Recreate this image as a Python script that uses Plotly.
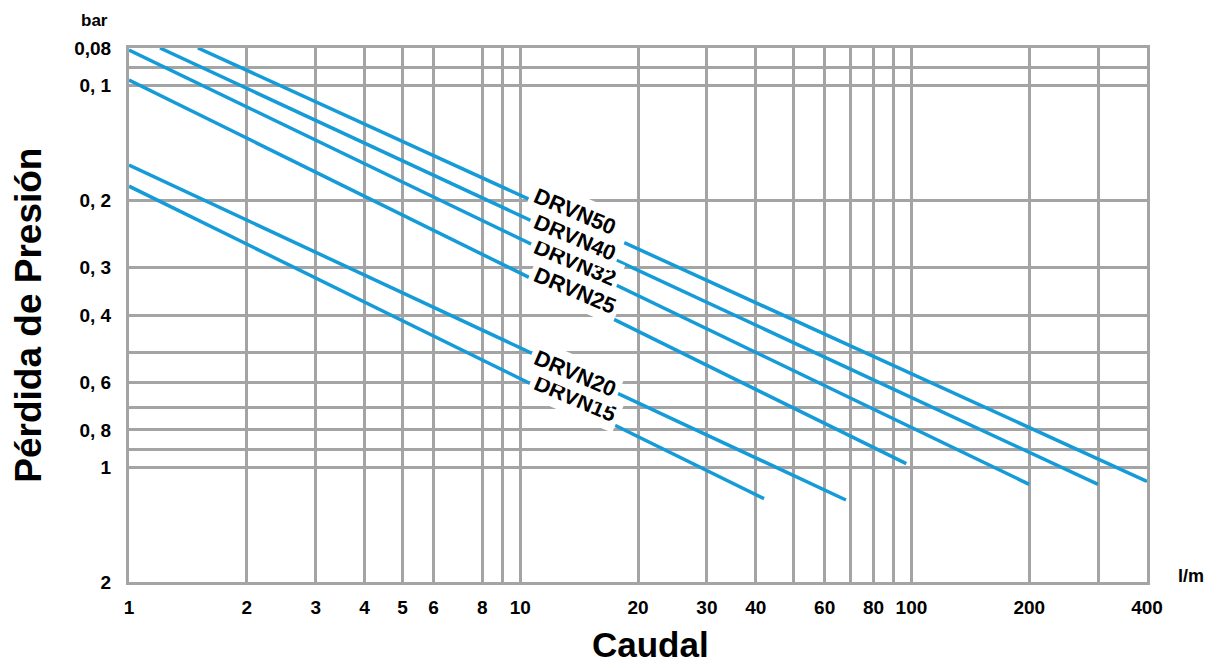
import numpy as np
import plotly.graph_objects as go

# ---------------- data ----------------
series = ["DRVN15", "DRVN20", "DRVN25", "DRVN32", "DRVN40", "DRVN50"]
flow_start = [1.0, 1.0, 1.0, 1.0, 1.2, 1.5]          # l/m
flow_end = [42, 68, 97, 200, 300, 400]               # l/m
drop_start = [0.184, 0.162, 0.097, 0.081, 0.080, 0.080]  # bar
drop_end = [1.21, 1.22, 0.98, 1.11, 1.11, 1.09]          # bar

x_tickvals = [1, 2, 3, 4, 5, 6, 8, 9, 10, 20, 30, 40, 50, 60, 70, 80, 90, 100, 200, 300, 400]
x_ticktext = ["1", "2", "3", "4", "5", "6", "8", "", "10", "20", "30", "40", "", "60", "",
              "80", "", "100", "200", "", "400"]
y_tickvals = [0.08, 0.09, 0.1, 0.2, 0.3, 0.4, 0.5, 0.6, 0.7, 0.8, 0.9, 1, 2]
y_ticktext = ["0,08", "", "0, 1", "0, 2", "0, 3", "0, 4", "", "0, 6", "", "0, 8", "", "1", "2"]

# ---------------- styling ----------------
BLUE = "#159bd8"
GRID = "#a4a4a4"
FONT = "Liberation Sans, Arial, Helvetica, sans-serif"
label_flow = 13.8
label_shift = [7, 0, 10, 3, 4, 9]

fig = go.Figure()
for i, name in enumerate(series):
    fig.add_trace(go.Scatter(
        x=[flow_start[i], flow_end[i]],
        y=[drop_start[i], drop_end[i]],
        mode="lines", name=name, showlegend=False,
        line=dict(color=BLUE, width=3.5),
    ))


def on_line(i, q):
    lx0, lx1 = np.log10(flow_start[i]), np.log10(flow_end[i])
    ly0, ly1 = np.log10(drop_start[i]), np.log10(drop_end[i])
    t = (np.log10(q) - lx0) / (lx1 - lx0)
    return 10 ** (ly0 + t * (ly1 - ly0))


annotations = []
for i, name in enumerate(series):
    annotations.append(dict(
        x=np.log10(label_flow), y=np.log10(on_line(i, label_flow)),
        xref="x", yref="y", text="<b>%s</b>" % name, showarrow=False,
        textangle=23, yshift=label_shift[i],
        font=dict(family=FONT, size=22, color="black"),
        bgcolor="white", borderpad=4,
    ))

annotations += [
    dict(x=-0.0334, y=1.0506, xref="paper", yref="paper", text="<b>bar</b>",
         showarrow=False, xanchor="center", yanchor="middle",
         font=dict(family=FONT, size=17, color="black")),
    dict(x=1.0432, y=0.011, xref="paper", yref="paper", text="<b>l/m</b>",
         showarrow=False, xanchor="center", yanchor="middle",
         font=dict(family=FONT, size=18, color="black")),
    dict(x=0.512, y=-0.117, xref="paper", yref="paper", text="<b>Caudal</b>",
         showarrow=False, xanchor="center", yanchor="middle",
         font=dict(family=FONT, size=35, color="black")),
    dict(x=-0.0995, y=0.5, xref="paper", yref="paper", text="<b>Pérdida de Presión</b>",
         showarrow=False, xanchor="center", yanchor="middle", textangle=-90,
         font=dict(family=FONT, size=37, color="black")),
]

axis_common = dict(
    type="log", showgrid=True, gridcolor=GRID, gridwidth=2.5,
    showline=True, mirror=True, linecolor=GRID, linewidth=3,
    ticks="", zeroline=False,
    tickfont=dict(family=FONT, size=19, color="black", weight="bold"),
)

fig.update_layout(
    width=1222, height=668,
    margin=dict(l=129, r=75, t=48, b=86),
    paper_bgcolor="white", plot_bgcolor="white",
    xaxis=dict(range=[0, np.log10(400)], tickvals=x_tickvals, ticktext=x_ticktext,
               ticklabelstandoff=6, **axis_common),
    yaxis=dict(range=[np.log10(2), np.log10(0.08)], tickvals=y_tickvals, ticktext=y_ticktext,
               ticklabelstandoff=11, **axis_common),
    annotations=annotations,
)

fig.write_html("out.html")
